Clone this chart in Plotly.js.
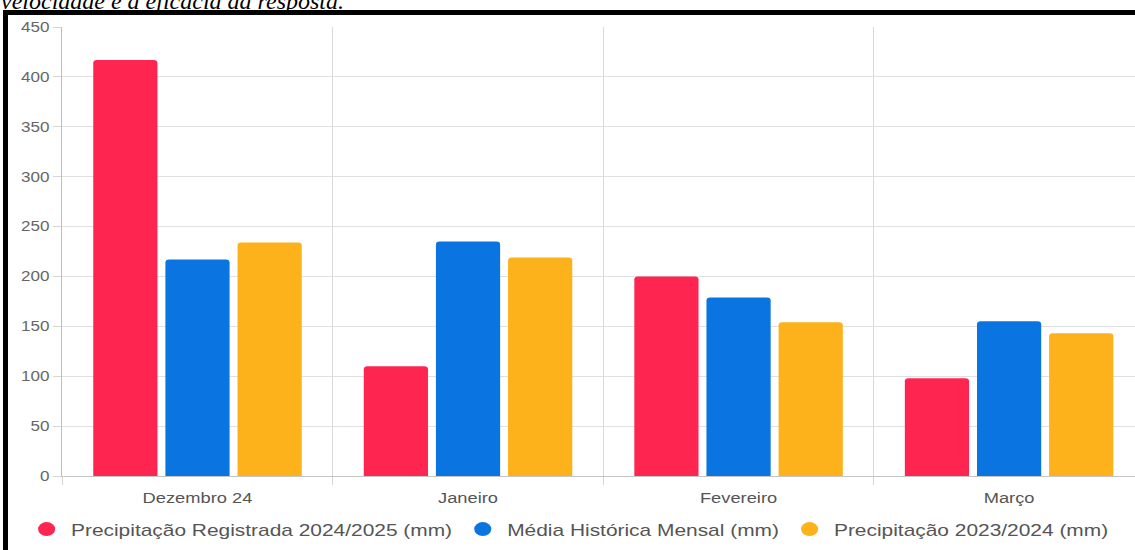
<!DOCTYPE html>
<html>
<head>
<meta charset="utf-8">
<script src="https://cdn.plot.ly/plotly-3.0.1.min.js"></script>
<style>
  html, body { margin: 0; padding: 0; background: #fff; width: 1135px; height: 550px; overflow: hidden; position: relative; }
  #cap { position: absolute; left: 1px; top: -11px; font-family: "Liberation Serif", "Times New Roman", serif; font-style: italic; font-size: 24px; line-height: 24px; color: #000; white-space: nowrap; }
  #frame { position: absolute; left: 3px; top: 10px; width: 1200px; height: 600px; border-top: 5px solid #000; border-left: 5px solid #000; box-sizing: border-box; }
  #wrap { position: absolute; left: 0; top: 0; transform-origin: 0 0; }
</style>
</head>
<body>
<div id="cap">velocidade e a eficácia da resposta.</div>
<div id="frame"></div>
<div id="wrap"><div id="chart"></div></div>
<script>
// Monthly rainfall, December to March
const months = ["Dezembro 24", "Janeiro", "Fevereiro", "Março"];
const seriesNames = [
  "Precipitação Registrada 2024/2025 (mm)",
  "Média Histórica Mensal (mm)",
  "Precipitação 2023/2024 (mm)"
];
const rain2425 = [417, 110, 200, 98];
const historicalMean = [217, 235, 179, 155];
const rain2324 = [234, 219, 154, 143];
const yTicks = [0, 50, 100, 150, 200, 250, 300, 350, 400, 450];

const colors = ["#FE2551", "#0A75E0", "#FDB11B"];
const values = [rain2425, historicalMean, rain2324];

// the chart is laid out at a narrower width and widened horizontally
const sx = 1.22;
const pageW = 1160;
const plotLeft = 62, plotRight = 1144, plotTop = 27, plotBottom = 476, H = 550;

const wrap = document.getElementById("wrap");
wrap.style.transform = "scaleX(" + sx + ")";

const font = "Liberation Sans, Arial, sans-serif";

const traces = [];
values.forEach((v, i) => {
  traces.push({
    type: "bar",
    x: months,
    y: v,
    name: seriesNames[i],
    marker: { color: colors[i], cornerradius: 3 },
    showlegend: false,
    hoverinfo: "x+y"
  });
});
// round legend keys
seriesNames.forEach((n, i) => {
  traces.push({
    type: "scatter",
    mode: "markers",
    x: [null],
    y: [null],
    name: n,
    marker: { color: colors[i], size: 14, symbol: "circle" },
    showlegend: true
  });
});

// left edge of the legend, in page pixels
const legendLeft = 22;
const plotW = (plotRight - plotLeft) / sx;

const layout = {
  width: pageW / sx,
  height: H,
  margin: { l: plotLeft / sx, r: (pageW - plotRight) / sx, t: plotTop, b: H - plotBottom, pad: 0, autoexpand: false },
  paper_bgcolor: "rgba(0,0,0,0)",
  plot_bgcolor: "rgba(0,0,0,0)",
  font: { family: font, color: "#666" },
  barmode: "group",
  bargap: 0.2,
  bargroupgap: 0.11,
  showlegend: true,
  legend: {
    orientation: "h",
    x: ((legendLeft - plotLeft) / sx) / plotW,
    xanchor: "left",
    y: -0.079,
    yanchor: "top",
    font: { family: font, size: 17.15, color: "#555" },
    itemclick: false
  },
  xaxis: {
    type: "category",
    categoryorder: "array",
    categoryarray: months,
    tickson: "boundaries",
    ticks: "outside",
    ticklen: 8,
    tickcolor: "#d6d6d6",
    tickwidth: 1,
    showgrid: true,
    gridcolor: "#d9d9d9",
    gridwidth: 1,
    showline: true,
    linecolor: "#c4c4c4",
    linewidth: 1,
    tickfont: { family: font, size: 15, color: "#555" },
    ticklabelstandoff: 8,
    fixedrange: true
  },
  yaxis: {
    range: [0, 450],
    tickvals: yTicks,
    ticktext: yTicks.map(String),
    ticks: "outside",
    ticklen: 8 / sx,
    tickcolor: "#d6d6d6",
    showgrid: true,
    gridcolor: "#e0e0e0",
    gridwidth: 1,
    zeroline: false,
    showline: true,
    linecolor: "#bdbdbd",
    linewidth: 1,
    tickfont: { family: font, size: 14, color: "#666" },
    ticklabelstandoff: 22 / sx,
    fixedrange: true
  }
};

Plotly.newPlot("chart", traces, layout, { displayModeBar: false, staticPlot: true });
</script>
</body>
</html>
